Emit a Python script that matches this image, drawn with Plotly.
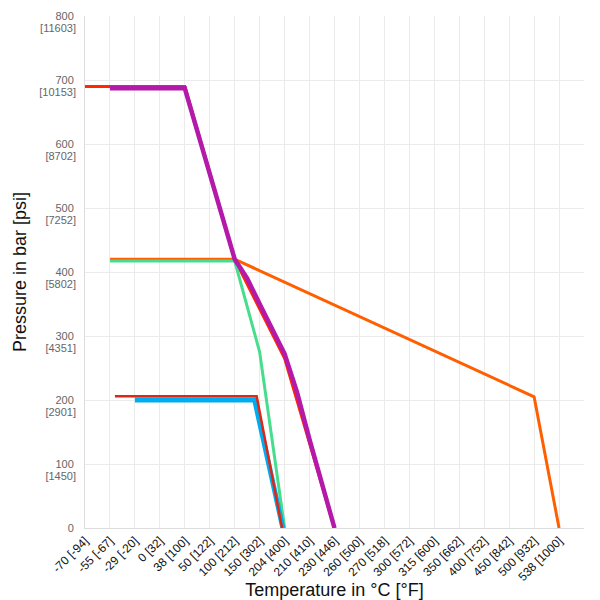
import plotly.graph_objects as go

# Category axis (temperature) and pressure ticks
temp_labels = ["-70 [-94]", "-55 [-67]", "-29 [-20]", "0 [32]", "38 [100]", "50 [122]",
               "100 [212]", "150 [302]", "204 [400]", "210 [410]", "230 [446]", "260 [500]",
               "270 [518]", "300 [572]", "315 [600]", "350 [662]", "400 [752]", "450 [842]",
               "500 [932]", "538 [1000]"]
bar_ticks = [0, 100, 200, 300, 400, 500, 600, 700, 800]
psi_ticks = [100, 200, 300, 400, 500, 600, 700, 800]
psi_labels = ["[1450]", "[2901]", "[4351]", "[5802]", "[7252]", "[8702]", "[10153]", "[11603]"]

# Series (x = position on the temperature category scale, y = pressure in bar)
red_top_x = [0, 4, 6, 8, 10]
red_top_y = [690, 690, 420, 265, 0]

orange_x = [1, 6, 18, 19]
orange_y = [420, 420, 205, 0]

green_x = [1, 6, 7, 8]
green_y = [417, 417, 275, 0]

blue_x = [2, 6.8, 7.93]
blue_y = [200, 200, 0]

red_low_x = [1.2, 6.88, 7.9]
red_low_y = [206, 206, 0]

magenta_x = [1, 4, 6, 6.5, 7, 7.5, 8, 8.5, 9, 10]
magenta_y = [687, 687, 420, 390, 350, 312, 272, 212, 138, 0]

series = [
    (red_top_x, red_top_y, "rgb(255,40,0)", 3),
    (orange_x, orange_y, "rgb(255,95,0)", 3),
    (green_x, green_y, "rgb(70,222,140)", 3),
    (blue_x, blue_y, "rgb(0,172,240)", 5),
    (red_low_x, red_low_y, "rgb(222,40,20)", 2.5),
    (magenta_x, magenta_y, "rgb(180,25,170)", 4.5),
]

fig = go.Figure()
for xs, ys, col, w in series:
    fig.add_trace(go.Scatter(x=xs, y=ys, mode="lines",
                             line=dict(color=col, width=w), showlegend=False,
                             hoverinfo="skip"))
# empty trace to anchor the psi label axis
fig.add_trace(go.Scatter(x=[], y=[], yaxis="y2", showlegend=False, hoverinfo="skip"))

fig.update_layout(
    width=600, height=600,
    margin=dict(l=85, r=16, t=16, b=72),
    paper_bgcolor="white", plot_bgcolor="white",
    font=dict(family="Liberation Sans, Arial, sans-serif"),
    xaxis=dict(
        range=[0, 20], tickmode="array",
        tickvals=list(range(len(temp_labels))) + [20],
        ticktext=temp_labels + [""],
        tickangle=-45, tickfont=dict(size=12, color="#111"),
        showgrid=True, gridcolor="#ebebeb", gridwidth=1,
        showline=True, linecolor="#dcdcdc", linewidth=1,
        zeroline=False, ticks="",
        title=dict(text="Temperature in °C [°F]", font=dict(size=18, color="#111"), standoff=8),
        automargin=False,
    ),
    yaxis=dict(
        range=[0, 800], tickmode="array", tickvals=bar_ticks,
        ticktext=[str(b) for b in bar_ticks],
        tickfont=dict(size=11, color="#666"),
        showgrid=True, gridcolor="#ebebeb", gridwidth=1,
        showline=True, linecolor="#dcdcdc", linewidth=1,
        zeroline=False, ticks="", ticklabelstandoff=8,
        title=dict(text="Pressure in bar [psi]", font=dict(size=18, color="#111"), standoff=24),
        automargin=False,
    ),
    yaxis2=dict(
        overlaying="y", side="left", range=[0, 800], tickmode="array",
        tickvals=psi_ticks, ticktext=psi_labels,
        tickfont=dict(size=11, color="#666"),
        showgrid=False, showline=False, zeroline=False, ticks="",
        ticklabelstandoff=8, ticklabelshift=12, automargin=False,
    ),
)

fig.write_html("out.html")
